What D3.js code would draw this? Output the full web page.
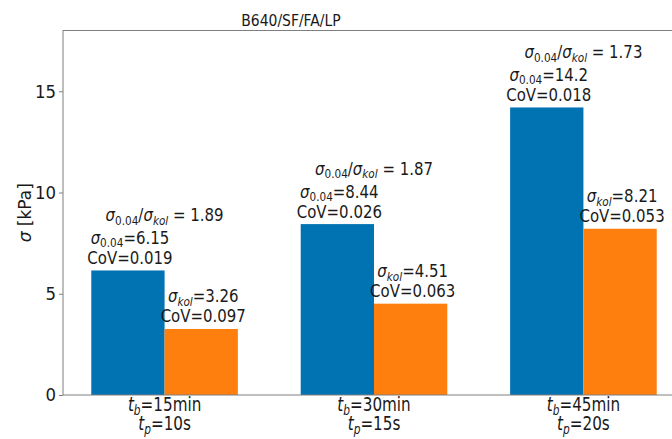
<!DOCTYPE html>
<html>
<head>
<meta charset="utf-8">
<script src="https://cdn.jsdelivr.net/npm/d3@7"></script>
<style>
  html, body { margin: 0; padding: 0; background: #fff; }
  svg { display: block; }
  text { font-family: "DejaVu Sans", sans-serif; fill: #1a1a1a; }
</style>
</head>
<body>
<svg id="chart" width="672" height="439"></svg>
<script>
// ---- data ----
const title = "B640/SF/FA/LP";
const tbLabels = ["15min", "30min", "45min"];
const tpLabels = ["10s", "15s", "20s"];
const sigma004 = [6.15, 8.44, 14.2];
const cov004 = [0.019, 0.026, 0.018];
const sigmaKol = [3.26, 4.51, 8.21];
const covKol = [0.097, 0.063, 0.053];
const ratios = [1.89, 1.87, 1.73];
const yTicks = [0, 5, 10, 15];
const yLabel = "[kPa]";

const blue = "#0173b2";
const orange = "#ff7f0e";
const axisColor = "#7f7f7f";

const svg = d3.select("#chart");
const mLeft = 63, mTop = 30.5, mBottom = 395, mRight = 685;
const barW = 0.35;

const x = d3.scaleLinear().domain([-0.485, 2.485]).range([mLeft, mRight]);
const y = d3.scaleLinear().domain([0, 18]).range([mBottom, mTop]);

const idx = d3.range(sigma004.length);

// bars
svg.append("g").selectAll("rect").data(idx).join("rect")
  .attr("x", i => x(i - barW))
  .attr("width", i => x(i) - x(i - barW))
  .attr("y", i => y(sigma004[i]))
  .attr("height", i => y(0) - y(sigma004[i]))
  .attr("fill", blue);
svg.append("g").selectAll("rect").data(idx).join("rect")
  .attr("x", i => x(i))
  .attr("width", i => x(i + barW) - x(i))
  .attr("y", i => y(sigmaKol[i]))
  .attr("height", i => y(0) - y(sigmaKol[i]))
  .attr("fill", orange);

// frame
svg.append("rect")
  .attr("x", mLeft).attr("y", mTop)
  .attr("width", mRight - mLeft).attr("height", mBottom - mTop)
  .attr("fill", "none").attr("stroke", axisColor).attr("stroke-width", 1);

// text helper: horizontally condensed text anchored at (px, py)
function label(px, py, size, sx, anchor) {
  return svg.append("g")
    .attr("transform", `translate(${px},${py}) scale(${sx},1)`)
    .append("text")
    .attr("text-anchor", anchor || "middle")
    .attr("font-size", size);
}

// y axis
const yAxis = d3.axisLeft(y).tickValues(yTicks).tickSize(4).tickPadding(3);
const ya = svg.append("g").attr("transform", `translate(${mLeft},0)`).call(yAxis);
ya.select(".domain").remove();
ya.selectAll(".tick line").attr("stroke", axisColor);
ya.selectAll(".tick text")
  .attr("font-size", 18).attr("font-family", "DejaVu Sans").attr("fill", "#1a1a1a")
  .attr("transform", "translate(-7,0) scale(0.92,1)").attr("x", 0);

// y label
const yl = svg.append("text")
  .attr("transform", `translate(31,${(mTop + mBottom) / 2}) rotate(-90)`)
  .attr("text-anchor", "middle").attr("font-size", 17);
yl.append("tspan").attr("font-style", "italic").text("σ");
yl.append("tspan").text(" " + yLabel);

// title
label(291, 26, 16, 0.87).text(title);

// helpers for math-like text
function sigmaSub(t, sub, subItalic, fs, first) {
  const s = t.append("tspan").attr("font-size", fs).attr("font-style", "italic").text("σ");
  if (first) s.attr("x", 0);
  t.append("tspan").attr("font-size", fs * 0.7).attr("dy", fs * 0.2)
    .attr("font-style", subItalic ? "italic" : "normal").text(sub);
}
const fs = 17, asx = 0.88, lineGap = 20;

function valueLabel(px, barTop, sub, subItalic, val, cov) {
  const t = label(px, barTop - 6.5 - lineGap, fs, asx);
  sigmaSub(t, sub, subItalic, fs, true);
  t.append("tspan").attr("dy", -fs * 0.2).text("=" + val);
  t.append("tspan").attr("x", 0).attr("dy", lineGap).text("CoV=" + cov.toFixed(3));
}

// annotations
idx.forEach(i => {
  const cb = x(i - barW / 2) + 2, co = x(i + barW / 2) + 2;
  const tb = y(sigma004[i]), to = y(sigmaKol[i]);
  valueLabel(cb, tb, "0.04", false, sigma004[i], cov004[i]);
  valueLabel(co, to, "kol", true, sigmaKol[i], covKol[i]);
  // ratio
  const t = label(x(i), tb - 49, fs, asx);
  sigmaSub(t, "0.04", false, fs);
  t.append("tspan").attr("dy", -fs * 0.2).text("/");
  sigmaSub(t, "kol", true, fs);
  t.append("tspan").attr("dy", -fs * 0.2).text(" = " + ratios[i]);
});

// x tick labels
const xfs = 19, xsx = 0.8;
idx.forEach(i => {
  const t = label(x(i), 411, xfs, xsx);
  t.append("tspan").attr("x", 0).attr("font-style", "italic").text("t");
  t.append("tspan").attr("font-style", "italic").attr("font-size", xfs * 0.7).attr("dy", xfs * 0.2).text("b");
  t.append("tspan").attr("dy", -xfs * 0.2).text("=" + tbLabels[i]);
  t.append("tspan").attr("x", 0).attr("dy", 19).attr("font-style", "italic").text("t");
  t.append("tspan").attr("font-style", "italic").attr("font-size", xfs * 0.7).attr("dy", xfs * 0.2).text("p");
  t.append("tspan").attr("dy", -xfs * 0.2).text("=" + tpLabels[i]);
});
</script>
</body>
</html>
